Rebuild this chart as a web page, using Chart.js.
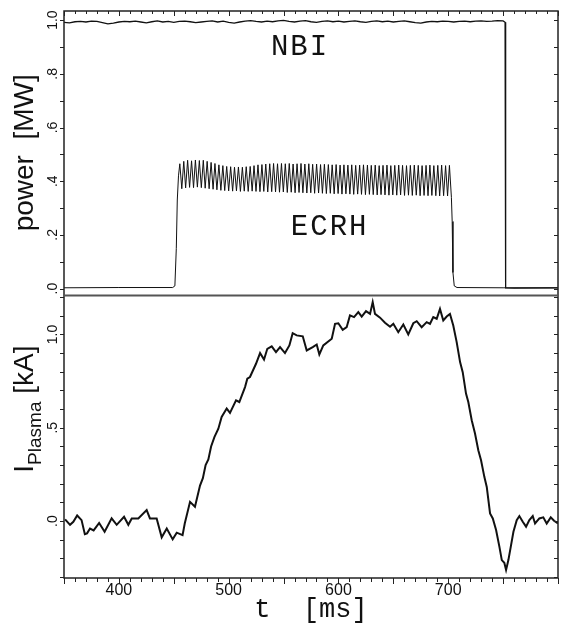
<!DOCTYPE html>
<html>
<head>
<meta charset="utf-8">
<script src="https://cdn.jsdelivr.net/npm/chart.js@4.4.1/dist/chart.umd.min.js"></script>
<style>
    html, body { margin: 0; padding: 0; background: #fff; }
    #wrap { width: 561px; height: 623px; }
</style>
</head>
<body>
<div id="wrap"><canvas id="plasmaChart" width="561" height="623"></canvas></div>
<script>
// ---- data ----
const timeTicks = [400, 500, 600, 700];
const powerTicks = [0, 0.2, 0.4, 0.6, 0.8, 1.0];
const powerTickLabels = ['.0', '.2', '.4', '.6', '.8', '1.0'];
const currentTicks = [0, 0.5, 1.0];
const currentTickLabels = ['.0', '.5', '1.0'];

// NBI power [MW]
const nbiTime = [350, 355, 360, 365, 370, 375, 380, 385, 390, 395, 400, 405, 410, 415, 420, 425, 430, 435, 440, 445,
    450, 455, 460, 465, 470, 475, 480, 485, 490, 495, 500, 505, 510, 515, 520, 525, 530, 535, 540, 545,
    550, 555, 560, 565, 570, 575, 580, 585, 590, 595, 600, 605, 610, 615, 620, 625, 630, 635, 640, 645,
    650, 655, 660, 665, 670, 675, 680, 685, 690, 695, 700, 705, 710, 715, 720, 725, 730, 735, 740, 745,
    750, 751.8, 752.3, 760, 800];
const nbiPower = [0.992, 0.990, 0.994, 0.995, 0.993, 0.996, 0.995, 0.991, 0.986, 0.989, 0.993, 0.995, 0.994, 0.996, 0.993, 0.990, 0.994, 0.997, 0.993, 0.995,
    0.992, 0.995, 0.996, 0.994, 0.991, 0.993, 0.995, 0.997, 0.993, 0.996, 0.992, 0.989, 0.993, 0.996, 0.998, 0.995, 0.993, 0.996, 0.994, 0.997,
    0.999, 0.995, 0.993, 0.996, 0.998, 0.994, 0.992, 0.995, 0.997, 0.994, 0.996, 0.993, 0.995, 0.997, 0.994, 0.992, 0.995, 0.997, 0.994, 0.996,
    0.993, 0.995, 0.997, 0.994, 0.991, 0.989, 0.993, 0.995, 0.994, 0.996, 0.995, 0.993, 0.995, 0.996, 0.994, 0.996, 0.997, 0.995, 0.996, 0.998,
    0.997, 0.992, 0.003, 0.002, 0.003];

// ECRH power [MW], modulated
const ecrhTime = [350, 400, 449, 451, 452.3, 453.2, 454.3,
    455.5, 457.3, 459.1, 460.8, 462.6, 464.4, 466.2, 468.0, 469.7, 471.5, 473.3, 475.1, 476.9, 478.6, 480.4, 482.2, 484.0, 485.8,
    487.5, 489.3, 491.1, 492.9, 494.7, 496.4, 498.2, 500.0, 501.8, 503.6, 505.3, 507.1, 508.9, 510.7, 512.5, 514.2, 516.0, 517.8,
    519.6, 521.4, 523.1, 524.9, 526.7, 528.5, 530.3, 532.0, 533.8, 535.6, 537.4, 539.2, 540.9, 542.7, 544.5, 546.3, 548.1, 549.8,
    551.6, 553.4, 555.2, 557.0, 558.7, 560.5, 562.3, 564.1, 565.9, 567.6, 569.4, 571.2, 573.0, 574.8, 576.5, 578.3, 580.1, 581.9,
    583.7, 585.4, 587.2, 589.0, 590.8, 592.6, 594.3, 596.1, 597.9, 599.7, 601.5, 603.2, 605.0, 606.8, 608.6, 610.4, 612.1, 613.9,
    615.7, 617.5, 619.3, 621.0, 622.8, 624.6, 626.4, 628.2, 629.9, 631.7, 633.5, 635.3, 637.1, 638.8, 640.6, 642.4, 644.2, 646.0,
    647.7, 649.5, 651.3, 653.1, 654.9, 656.6, 658.4, 660.2, 662.0, 663.8, 665.5, 667.3, 669.1, 670.9, 672.7, 674.4, 676.2, 678.0,
    679.8, 681.6, 683.3, 685.1, 686.9, 688.7, 690.5, 692.2, 694.0, 695.8, 697.6, 699.4, 701.1, 702.9,
    703.6, 704.3, 705.5, 708, 750, 800];
const ecrhPower = [0.003, 0.004, 0.004, 0.010, 0.150, 0.330, 0.420,
    0.465, 0.372, 0.474, 0.375, 0.478, 0.377, 0.476, 0.376, 0.479, 0.378, 0.477, 0.376, 0.478, 0.374, 0.474, 0.372, 0.470, 0.370,
    0.466, 0.368, 0.461, 0.366, 0.458, 0.365, 0.455, 0.364, 0.454, 0.363, 0.452, 0.364, 0.453, 0.362, 0.452, 0.363, 0.454, 0.362,
    0.455, 0.363, 0.458, 0.362, 0.461, 0.361, 0.462, 0.362, 0.464, 0.360, 0.465, 0.361, 0.466, 0.360, 0.465, 0.359, 0.466, 0.360,
    0.465, 0.358, 0.466, 0.359, 0.464, 0.357, 0.465, 0.358, 0.466, 0.357, 0.464, 0.356, 0.465, 0.357, 0.463, 0.355, 0.464, 0.356,
    0.462, 0.355, 0.463, 0.354, 0.462, 0.355, 0.461, 0.353, 0.462, 0.354, 0.460, 0.352, 0.461, 0.353, 0.460, 0.352, 0.461, 0.351,
    0.459, 0.352, 0.460, 0.351, 0.461, 0.350, 0.460, 0.351, 0.459, 0.350, 0.460, 0.349, 0.458, 0.350, 0.459, 0.349, 0.460, 0.348,
    0.458, 0.349, 0.459, 0.348, 0.460, 0.349, 0.459, 0.347, 0.458, 0.348, 0.459, 0.347, 0.460, 0.348, 0.459, 0.346, 0.458, 0.347,
    0.459, 0.346, 0.460, 0.347, 0.458, 0.346, 0.459, 0.345, 0.460, 0.346, 0.458, 0.345, 0.459, 0.340,
    0.250, 0.060, 0.010, 0.004, 0.003, 0.003];

// plasma current [kA]
const plasmaTime = [351, 355.5, 358.5, 362, 366, 369, 371, 373.7, 377, 382, 387, 393.4, 398, 404.7, 408.6, 411.7, 417.7, 425.3, 428.3, 434.4,
    439, 443.6, 449, 452.7, 458, 460, 464.8, 469.3, 473.9, 476.5, 479, 481.5, 484, 487, 490.6, 493.6, 498.2, 501.2, 506.7, 509.7,
    514.9, 517, 519.4, 524.9, 528.6, 532.2, 535.2, 539.2, 543.1, 546.8, 551.3, 555.3, 558.3, 562, 567.5, 571.1, 576.6, 580.2, 582.6, 586.2,
    593.9, 596.9, 599.9, 603.9, 607.5, 610.5, 614.2, 618.1, 621.2, 625.1, 628.8, 631.2, 633.3, 637.9, 642.4, 647, 650, 654.5, 659.1, 663.6,
    668.2, 671.3, 675.8, 680.4, 683.4, 686.4, 689.5, 692.5, 695.5, 698.6, 701.6, 704.6, 707.7, 710.8, 713.2, 716.2, 718.3, 721.4, 724.4, 727.4,
    729.9, 732.9, 735.1, 738.1, 740.6, 743.6, 746.6, 748.8, 751.1, 752.7, 754.8, 757, 759.4, 762.4, 764.8, 767.9, 770.9, 773.9, 777, 779.1,
    783, 786.6, 789.7, 793.4, 796.4, 800];
const plasmaCurrent = [0.009, -0.020, -0.004, 0.030, 0.005, -0.070, -0.066, -0.040, -0.050, -0.010, -0.057, 0.015, -0.020, 0.023, -0.020, 0.014, 0.014, 0.059, 0.014, 0.014,
    -0.087, -0.040, -0.098, -0.062, -0.075, -0.013, 0.103, 0.077, 0.190, 0.230, 0.300, 0.330, 0.400, 0.450, 0.495, 0.558, 0.603, 0.580, 0.647, 0.638,
    0.718, 0.763, 0.772, 0.843, 0.900, 0.865, 0.923, 0.936, 0.905, 0.932, 0.900, 0.941, 1.007, 0.995, 0.990, 0.914, 0.932, 0.946, 0.893, 0.941,
    0.977, 1.057, 1.060, 1.025, 1.039, 1.102, 1.093, 1.120, 1.096, 1.125, 1.110, 1.173, 1.110, 1.090, 1.063, 1.041, 1.057, 1.012, 1.053, 1.000,
    1.060, 1.071, 1.039, 1.066, 1.057, 1.093, 1.084, 1.137, 1.075, 1.096, 1.110, 1.048, 0.959, 0.852, 0.798, 0.683, 0.638, 0.540, 0.469, 0.380,
    0.326, 0.237, 0.183, 0.041, 0.014, -0.048, -0.137, -0.209, -0.223, -0.262, -0.209, -0.137, -0.057, 0.005, 0.027, -0.004, -0.030, 0.005, 0.027, -0.013,
    0.014, 0.020, -0.013, 0.020, 0.002, -0.013];

function toPoints(xs, ys) {
    return xs.map((x, i) => ({x: x, y: ys[i]}));
}

const sansFont = "'Liberation Sans', Arial, sans-serif";
const monoFont = "'Liberation Mono', 'Courier New', monospace";

function rotatedText(ctx, text, x, y) {
    ctx.save();
    ctx.translate(x, y);
    ctx.rotate(-Math.PI / 2);
    ctx.fillText(text, 0, 0);
    ctx.restore();
}

// frame, ticks and all the text
const framePlugin = {
    id: 'frame',
    afterDraw(chart) {
        const ctx = chart.ctx;
        const xs = chart.scales.x;
        const yP = chart.scales.yPower;
        const yC = chart.scales.yCurrent;
        const left = chart.chartArea.left;
        const right = chart.chartArea.right;
        const top = yP.top;
        const mid = yP.bottom;
        const bottom = yC.bottom;

        ctx.save();
        ctx.strokeStyle = '#222';
        ctx.lineWidth = 1.5;
        ctx.strokeRect(left, top, right - left, bottom - top);

        // divider between the two panels
        ctx.strokeStyle = '#555';
        ctx.lineWidth = 2;
        ctx.beginPath();
        ctx.moveTo(left, mid + 1);
        ctx.lineTo(right, mid + 1);
        ctx.stroke();

        // x tick marks, 10 ms apart
        ctx.strokeStyle = '#222';
        ctx.lineWidth = 1;
        ctx.beginPath();
        for (let t = xs.min; t <= xs.max; t += 10) {
            const px = Math.round(xs.getPixelForValue(t)) + 0.5;
            const len = t % 50 === 0 ? 5 : 3;
            ctx.moveTo(px, top);
            ctx.lineTo(px, top + len);
            ctx.moveTo(px, bottom);
            ctx.lineTo(px, bottom + len + 1);
        }
        // y tick marks, 0.1 apart
        for (let v = 0; v <= 1.0001; v += 0.1) {
            const py = Math.round(yP.getPixelForValue(v)) + 0.5;
            ctx.moveTo(left - 4, py);
            ctx.lineTo(left, py);
            ctx.moveTo(right - 4, py);
            ctx.lineTo(right, py);
        }
        for (let v = -0.3; v <= 1.2001; v += 0.1) {
            const py = Math.round(yC.getPixelForValue(v)) + 0.5;
            ctx.moveTo(left - 4, py);
            ctx.lineTo(left, py);
            ctx.moveTo(right - 4, py);
            ctx.lineTo(right, py);
        }
        ctx.stroke();

        ctx.fillStyle = '#111';
        // x tick labels
        ctx.font = '16px ' + sansFont;
        ctx.textAlign = 'center';
        ctx.textBaseline = 'alphabetic';
        timeTicks.forEach(t => {
            ctx.fillText(String(t), xs.getPixelForValue(t), 595);
        });

        // y tick labels, rotated
        ctx.font = '14px ' + sansFont;
        powerTicks.forEach((v, i) => {
            rotatedText(ctx, powerTickLabels[i], 57, yP.getPixelForValue(v));
        });
        currentTicks.forEach((v, i) => {
            rotatedText(ctx, currentTickLabels[i], 57, yC.getPixelForValue(v));
        });

        // axis titles
        ctx.font = '28px ' + sansFont;
        rotatedText(ctx, 'power  [MW]', 33, (top + mid) / 2);

        const mainFont = '28px ' + sansFont;
        const subFont = '19px ' + sansFont;
        ctx.font = mainFont;
        const wI = ctx.measureText('I').width;
        const wUnit = ctx.measureText(' [kA]').width;
        ctx.font = subFont;
        const wSub = ctx.measureText('Plasma').width;
        const total = wI + wSub + wUnit;
        const cy = yC.getPixelForValue(0.6);
        let y0 = cy + total / 2;
        ctx.textAlign = 'left';
        ctx.font = mainFont;
        rotatedText(ctx, 'I', 33, y0);
        y0 -= wI;
        ctx.font = subFont;
        rotatedText(ctx, 'Plasma', 41, y0);
        y0 -= wSub;
        ctx.font = mainFont;
        rotatedText(ctx, ' [kA]', 33, y0);

        ctx.textAlign = 'center';
        ctx.font = '27px ' + monoFont;
        ctx.fillText('t  [ms]', xs.getPixelForValue(575), 617);
        ctx.font = '29px ' + monoFont;
        ctx.letterSpacing = '2px';
        ctx.fillText('NBI', xs.getPixelForValue(565), 55);
        ctx.fillText('ECRH', xs.getPixelForValue(592), 235);
        ctx.letterSpacing = '0px';
        ctx.restore();
    }
};

const lineStyle = {
    borderColor: '#111',
    pointRadius: 0,
    tension: 0,
    fill: false
};

new Chart(document.getElementById('plasmaChart'), {
    type: 'line',
    data: {
        datasets: [
            Object.assign({label: 'NBI', data: toPoints(nbiTime, nbiPower), yAxisID: 'yPower', borderWidth: 1.3}, lineStyle),
            Object.assign({label: 'ECRH', data: toPoints(ecrhTime, ecrhPower), yAxisID: 'yPower', borderWidth: 1}, lineStyle),
            Object.assign({label: 'I Plasma', data: toPoints(plasmaTime, plasmaCurrent), yAxisID: 'yCurrent', borderWidth: 2}, lineStyle)
        ]
    },
    options: {
        responsive: false,
        animation: false,
        events: [],
        layout: {padding: {left: 0, right: 3, top: 11, bottom: 0}},
        plugins: {
            legend: {display: false},
            tooltip: {enabled: false}
        },
        scales: {
            x: {
                type: 'linear',
                position: 'bottom',
                min: 350,
                max: 800,
                grid: {display: false},
                border: {display: false},
                ticks: {display: false},
                afterFit: s => { s.height = 45; }
            },
            yCurrent: {
                type: 'linear',
                position: 'left',
                stack: 'panels',
                stackWeight: 1,
                min: -0.305,
                max: 1.214,
                grid: {display: false},
                border: {display: false},
                ticks: {display: false},
                afterFit: s => { s.width = 64; }
            },
            yPower: {
                type: 'linear',
                position: 'left',
                stack: 'panels',
                stackWeight: 1,
                min: -0.022,
                max: 1.034,
                grid: {display: false},
                border: {display: false},
                ticks: {display: false},
                afterFit: s => { s.width = 64; }
            }
        }
    },
    plugins: [framePlugin]
});
</script>
</body>
</html>
